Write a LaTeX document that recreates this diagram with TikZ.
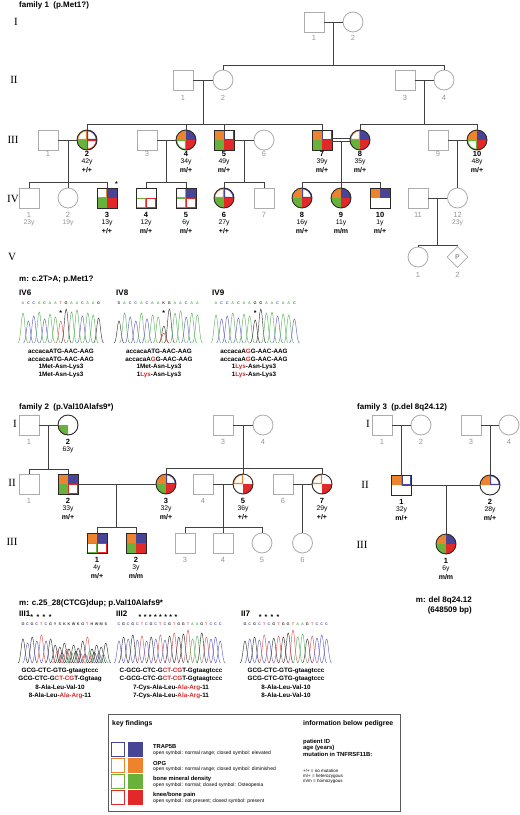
\documentclass[tikz,border=0pt]{standalone}
\usepackage{fontspec}
\setmainfont{Liberation Sans}
\newfontfamily\romfont{Liberation Serif}
\usetikzlibrary{shapes.geometric}
\definecolor{orng}{RGB}{238,131,45}
\definecolor{blu}{RGB}{72,68,150}
\definecolor{grn}{RGB}{104,178,60}
\definecolor{rd}{RGB}{226,40,40}
\definecolor{gsym}{RGB}{172,172,172}
\definecolor{gtxt}{RGB}{150,150,150}
\definecolor{dkline}{RGB}{65,65,65}
\definecolor{bord}{RGB}{45,40,40}
\definecolor{chA}{RGB}{95,180,95}
\definecolor{chC}{RGB}{100,100,190}
\definecolor{chG}{RGB}{55,55,55}
\definecolor{chT}{RGB}{225,85,85}
\colorlet{chS}{chG}\colorlet{chK}{chG}\colorlet{chY}{chG}\colorlet{chW}{chG}
\colorlet{chR}{chG}\colorlet{chM}{chG}\colorlet{chH}{chG}
\definecolor{mred}{RGB}{215,40,40}
\definecolor{legline}{RGB}{90,90,90}

\newcommand\qF[2]{\fill[#2] #1;}
\newcommand\qO[2]{\begin{scope}\clip #1;\draw[#2,line width=2.2pt] #1;\end{scope}}
\newcommand\qN[2]{}
\newcommand\asq[7]{%
  \fill[white] (#2-10,#3-10) rectangle (#2+10,#3+10);
  #4{(#2-10,#3-10) rectangle (#2,#3)}{orng}
  #5{(#2,#3-10) rectangle (#2+10,#3)}{blu}
  #6{(#2-10,#3) rectangle (#2,#3+10)}{grn}
  #7{(#2,#3) rectangle (#2+10,#3+10)}{rd}
  \node[affsq] (#1) at (#2,#3) {};}
\newcommand\aci[7]{%
  \fill[white] (#2,#3) circle[radius=10pt];
  #4{(#2,#3) -- (#2-10,#3) arc[start angle=180,end angle=90,radius=10pt] -- cycle}{orng}
  #5{(#2,#3) -- (#2,#3-10) arc[start angle=90,end angle=0,radius=10pt] -- cycle}{blu}
  #6{(#2,#3) -- (#2,#3+10) arc[start angle=270,end angle=180,radius=10pt] -- cycle}{grn}
  #7{(#2,#3) -- (#2+10,#3) arc[start angle=0,end angle=-90,radius=10pt] -- cycle}{rd}
  \node[affci] (#1) at (#2,#3) {};}
\newcommand\gsq[3]{\node[gsqs] (#1) at (#2,#3) {};}
\newcommand\gci[3]{\node[gcis] (#1) at (#2,#3) {};}
\def\lboff{16pt}
\newcommand\plab[4]{%
  \node[numlbl] (#1-n) at ([yshift=-\lboff]#1.center) {#2};
  \node[agelbl] (#1-a) at ([yshift=-\lboff-7.8pt]#1.center) {#3};
  \node[genlbl] (#1-g) at ([yshift=-\lboff-15.6pt]#1.center) {#4};}
\newcommand\glab[3]{%
  \node[gnum] (#1-n) at ([yshift=-\lboff]#1.center) {#2};
  \node[gage] (#1-a) at ([yshift=-\lboff-7.8pt]#1.center) {#3};}
\newcommand\pk[4]{\draw[color=#4,line width=0.45pt] (#1-5,#2) .. controls (#1-2.3,#2) and (#1-1.7,#2-#3) .. (#1,#2-#3) .. controls (#1+1.7,#2-#3) and (#1+2.3,#2) .. (#1+5,#2);}
\newcommand\chrom[6]{%
  \foreach \l/\h [count=\i from 0] in {#6}{%
    \pgfmathsetmacro\px{#2+\i*#3}%
    \pk{\px}{#5}{\h}{ch\l}%
    \node[baselet,text=ch\l] (#1-\i) at (\px,#4) {\l};}}

\begin{document}
\begin{tikzpicture}[x=1pt,y=-1pt,
  pline/.style={draw=dkline,line width=0.75pt},
  affsq/.style={draw=bord,line width=0.9pt,rectangle,minimum size=20pt,inner sep=0pt},
  affci/.style={draw=bord,line width=0.9pt,circle,minimum size=20pt,inner sep=0pt},
  gsqs/.style={draw=gsym,fill=white,line width=0.8pt,rectangle,minimum size=20pt,inner sep=0pt},
  gcis/.style={draw=gsym,fill=white,line width=0.8pt,circle,minimum size=20pt,inner sep=0pt},
  gdia/.style={draw=gsym,fill=white,line width=0.8pt,diamond,minimum width=21pt,minimum height=21pt,inner sep=0pt,font=\fontsize{7}{7}\selectfont\bfseries,text=gtxt},
  numlbl/.style={font=\fontsize{7.5}{8}\selectfont\bfseries,inner sep=0pt},
  agelbl/.style={font=\fontsize{6.8}{7}\selectfont,inner sep=0pt},
  genlbl/.style={font=\fontsize{7}{7}\selectfont\bfseries,inner sep=0pt},
  gnum/.style={font=\fontsize{7.5}{8}\selectfont,text=gtxt,inner sep=0pt},
  gage/.style={font=\fontsize{6.8}{7}\selectfont,text=gtxt,inner sep=0pt},
  roman/.style={font=\romfont\fontsize{11}{11}\selectfont,inner sep=0pt},
  head/.style={font=\fontsize{8}{9}\selectfont\bfseries,anchor=west,inner sep=0pt},
  seqtxt/.style={font=\fontsize{6.3}{7}\selectfont\bfseries,inner sep=0pt},
  baselet/.style={font=\fontsize{3.8}{4}\selectfont\bfseries,inner sep=0pt},
  astx/.style={font=\fontsize{7}{7}\selectfont\bfseries,inner sep=0pt},
  lgh/.style={font=\fontsize{6.9}{7}\selectfont\bfseries,inner sep=0pt,anchor=west},
  lgt/.style={font=\fontsize{5.8}{6}\selectfont\bfseries,inner sep=0pt,anchor=west},
  lgs/.style={font=\fontsize{5}{5}\selectfont,inner sep=0pt,anchor=west},
  lgi/.style={font=\fontsize{5.9}{6}\selectfont\bfseries,inner sep=0pt,anchor=west},
  lgx/.style={font=\fontsize{4.5}{5}\selectfont,inner sep=0pt,anchor=west}]
\useasboundingbox (0,0) rectangle (520,815);
\fill[white] (0,0) rectangle (520,815);

% ================= FAMILY 1 =================
\node[head] (h1) at (19,5) {family 1\ \ (p.Met1?)};
\node[roman] (r11) at (16,22) {I};
\node[roman] (r12) at (14,80) {II};
\node[roman] (r13) at (13,140) {III};
\node[roman] (r14) at (13,199) {IV};
\node[roman] (r15) at (12,257) {V};

\def\lboff{16pt}
\gsq{f1I1}{314}{22} \gci{f1I2}{353}{22}
\glab{f1I1}{1}{} \glab{f1I2}{2}{}

\def\lboff{18pt}
\gsq{f1II1}{183}{80} \gci{f1II2}{223}{80} \gsq{f1II3}{405}{80} \gci{f1II4}{444}{80}
\glab{f1II1}{1}{} \glab{f1II2}{2}{} \glab{f1II3}{3}{} \glab{f1II4}{4}{}

\def\lboff{14pt}
\gsq{f1III1}{48}{140}
\aci{f1III2}{87}{140}{\qO}{\qO}{\qF}{\qO}
\gsq{f1III3}{147}{140}
\aci{f1III4}{186}{140}{\qF}{\qF}{\qO}{\qF}
\asq{f1III5}{224}{140}{\qF}{\qO}{\qF}{\qF}
\gci{f1III6}{264}{140}
\asq{f1III7}{322}{140}{\qF}{\qO}{\qF}{\qF}
\aci{f1III8}{360}{140}{\qO}{\qF}{\qF}{\qF}
\gsq{f1III9}{438}{140}
\aci{f1III10}{477}{140}{\qF}{\qF}{\qO}{\qF}
\glab{f1III1}{1}{} \plab{f1III2}{2}{42y}{+/+} \glab{f1III3}{3}{}
\plab{f1III4}{4}{34y}{m/+} \plab{f1III5}{5}{49y}{m/+} \glab{f1III6}{6}{}
\plab{f1III7}{7}{39y}{m/+} \plab{f1III8}{8}{35y}{m/+} \glab{f1III9}{9}{}
\plab{f1III10}{10}{48y}{m/+}

\def\lboff{17pt}
\gsq{f1IV1}{29}{198} \gci{f1IV2}{68}{198}
\asq{f1IV3}{107}{198}{\qO}{\qF}{\qF}{\qF}
\asq{f1IV4}{146}{198}{\qN}{\qN}{\qO}{\qO}
\asq{f1IV5}{186}{198}{\qO}{\qF}{\qO}{\qO}
\aci{f1IV6}{224}{198}{\qO}{\qO}{\qF}{\qF}
\gsq{f1IV7}{264}{198}
\aci{f1IV8}{302}{198}{\qF}{\qO}{\qF}{\qF}
\aci{f1IV9}{341}{198}{\qF}{\qF}{\qF}{\qF}
\asq{f1IV10}{380}{198}{\qF}{\qF}{\qN}{\qN}
\gsq{f1IV11}{418}{198} \gci{f1IV12}{457.5}{198}
\glab{f1IV1}{1}{23y} \glab{f1IV2}{2}{19y}
\plab{f1IV3}{3}{13y}{+/+} \plab{f1IV4}{4}{12y}{m/+} \plab{f1IV5}{5}{6y}{m/+}
\plab{f1IV6}{6}{27y}{+/+} \glab{f1IV7}{7}{}
\plab{f1IV8}{8}{16y}{m/+} \plab{f1IV9}{9}{11y}{m/m} \plab{f1IV10}{10}{1y}{m/+}
\glab{f1IV11}{11}{} \glab{f1IV12}{12}{23y}
\node[astx] (f1IV3s) at (116.5,184) {*};

\def\lboff{18pt}
\gci{f1V1}{418}{257}
\node[gdia] (f1V2) at (457.5,257) {P};
\glab{f1V1}{1}{} \glab{f1V2}{2}{}

% lines family 1
\draw[pline] (f1I1) -- (f1I2);
\coordinate (f1m1) at (333.5,22); \coordinate (f1s1) at (333.5,65);
\draw[pline] (f1m1) -- (f1s1);
\draw[pline] (f1II2) |- (f1s1); \draw[pline] (f1II4) |- (f1s1);

\draw[pline] (f1II1) -- (f1II2); \draw[pline] (f1II3) -- (f1II4);
\coordinate (f1m2) at (203,80); \coordinate (f1s2) at (203,124);
\draw[pline] (f1m2) -- (f1s2);
\draw[pline] (f1III2) |- (f1s2); \draw[pline] (f1III4) |- (f1s2);
\draw[pline] (f1III5) |- (f1s2); \draw[pline] (f1III7) |- (f1s2);
\coordinate (f1m3) at (424.5,80); \coordinate (f1s3) at (424.5,124);
\draw[pline] (f1m3) -- (f1s3);
\draw[pline] (f1III8) |- (f1s3); \draw[pline] (f1III10) |- (f1s3);

\draw[pline] (f1III1) -- (f1III2);
\coordinate (f1m4) at (68,140); \coordinate (f1s4) at (68,182);
\draw[pline] (f1m4) -- (f1s4);
\draw[pline] (f1IV1) |- (f1s4); \draw[pline] (f1IV2) |- (f1s4); \draw[pline] (f1IV3) |- (f1s4);

\draw[pline] (f1III3) -- (f1III4);
\coordinate (f1m5) at (166.5,140); \coordinate (f1s5) at (166.5,182);
\draw[pline] (f1m5) -- (f1s5);
\draw[pline] (f1IV4) |- (f1s5); \draw[pline] (f1IV5) |- (f1s5);

\draw[pline] (f1III5) -- (f1III6);
\coordinate (f1m6) at (244,140); \coordinate (f1s6) at (244,182);
\draw[pline] (f1m6) -- (f1s6);
\draw[pline] (f1IV6) |- (f1s6); \draw[pline] (f1IV7) |- (f1s6);

\draw[pline] ([yshift=1.6pt]f1III7.east) -- ([yshift=1.6pt]f1III8.west);
\draw[pline] ([yshift=-1.6pt]f1III7.east) -- ([yshift=-1.6pt]f1III8.west);
\coordinate (f1m7) at (341,141.6); \coordinate (f1s7) at (341,182);
\draw[pline] (f1m7) -- (f1s7);
\draw[pline] (f1IV8) |- (f1s7); \draw[pline] (f1IV9) |- (f1s7); \draw[pline] (f1IV10) |- (f1s7);

\draw[pline] (f1III9) -- (f1III10);
\coordinate (f1m8) at (457.5,140);
\draw[pline] (f1m8) -- (f1IV12);

\draw[pline] (f1IV11) -- (f1IV12);
\coordinate (f1m9) at (437.75,198); \coordinate (f1s9) at (437.75,245);
\draw[pline] (f1m9) -- (f1s9);
\draw[pline] (f1V1) |- (f1s9); \draw[pline] (f1V2) |- (f1s9);

% ================= Chromatograms family 1 =================
\node[head] (h2) at (19,280) {m: c.2T>A; p.Met1?};
\node[head] (p1) at (19,293) {IV6};
\node[head] (p2) at (116,293) {IV8};
\node[head] (p3) at (212,293) {IV9};
\chrom{c1}{23}{5.4}{303.5}{343}{A/30,C/22,C/27,A/31,C/24,A/29,A/26,T/22,G/34,A/31,A/33,C/27,A/30,A/28,G/25}
\chrom{c2}{119}{5.6}{303.5}{343}{S/22,A/30,C/26,C/22,A/30,C/24,A/28,A/26,K/17,G/34,A/30,A/32,C/26,A/30,A/28}
\pk{163.8}{343}{10}{chT}
\chrom{c3}{216}{5.6}{303.5}{343}{A/28,C/24,C/27,A/30,C/25,A/29,A/27,G/23,G/34,A/30,A/31,C/27,A/29,A/28,C/24}
\node[astx] (c1s) at (60.8,313) {*};
\node[astx] (c2s) at (163.8,313) {*};
\node[astx] (c3s) at (255.2,313) {*};

\node[seqtxt] (q1a) at (61,351) {accacaATG-AAC-AAG};
\node[seqtxt] (q1b) at (61,359) {accacaATG-AAC-AAG};
\node[seqtxt] (q1c) at (61,367) {1Met-Asn-Lys3};
\node[seqtxt] (q1d) at (61,375) {1Met-Asn-Lys3};
\node[seqtxt] (q2a) at (159,351) {accacaATG-AAC-AAG};
\node[seqtxt] (q2b) at (159,359) {accacaA\textcolor{mred}{G}G-AAC-AAG};
\node[seqtxt] (q2c) at (159,367) {1Met-Asn-Lys3};
\node[seqtxt] (q2d) at (159,375) {1\textcolor{mred}{Lys}-Asn-Lys3};
\node[seqtxt] (q3a) at (254,351) {accacaA\textcolor{mred}{G}G-AAC-AAG};
\node[seqtxt] (q3b) at (254,359) {accacaA\textcolor{mred}{G}G-AAC-AAG};
\node[seqtxt] (q3c) at (254,367) {1\textcolor{mred}{Lys}-Asn-Lys3};
\node[seqtxt] (q3d) at (254,375) {1\textcolor{mred}{Lys}-Asn-Lys3};

% ================= FAMILY 2 =================
\node[head] (h4) at (19,407) {family 2\ \ (p.Val10Alafs9*)};
\node[roman] (r21) at (15,424) {I};
\node[roman] (r22) at (12,483) {II};
\node[roman] (r23) at (12,542) {III};

\def\lboff{17pt}
\gsq{f2I1}{29}{425}
\aci{f2I2}{68}{425}{\qN}{\qN}{\qF}{\qN}
\gsq{f2I3}{223}{425} \gci{f2I4}{263}{425}
\glab{f2I1}{1}{} \plab{f2I2}{2}{63y}{} \glab{f2I3}{3}{} \glab{f2I4}{4}{}

\gsq{f2II1}{29}{484}
\asq{f2II2}{68}{484}{\qF}{\qF}{\qF}{\qO}
\aci{f2II3}{166}{484}{\qF}{\qO}{\qF}{\qF}
\gsq{f2II4}{203}{484}
\aci{f2II5}{243}{484}{\qO}{\qN}{\qN}{\qF}
\gsq{f2II6}{283}{484}
\aci{f2II7}{322}{484}{\qO}{\qN}{\qN}{\qF}
\glab{f2II1}{1}{} \plab{f2II2}{2}{33y}{m/+} \plab{f2II3}{3}{32y}{m/+}
\glab{f2II4}{4}{} \plab{f2II5}{5}{36y}{+/+} \glab{f2II6}{6}{} \plab{f2II7}{7}{29y}{+/+}

\asq{f2III1}{97}{543}{\qF}{\qF}{\qO}{\qO}
\asq{f2III2}{136}{543}{\qF}{\qF}{\qF}{\qF}
\gsq{f2III3}{185}{543} \gsq{f2III4}{223}{543} \gci{f2III5}{262}{543} \gci{f2III6}{302.5}{543}
\plab{f2III1}{1}{4y}{m/+} \plab{f2III2}{2}{3y}{m/m}
\glab{f2III3}{3}{} \glab{f2III4}{4}{} \glab{f2III5}{5}{} \glab{f2III6}{6}{}

\draw[pline] (f2I1) -- (f2I2);
\coordinate (f2m1) at (48.5,425); \coordinate (f2s1) at (48.5,469);
\draw[pline] (f2m1) -- (f2s1);
\draw[pline] (f2II1) |- (f2s1); \draw[pline] (f2II2) |- (f2s1);
\draw[pline] (f2I3) -- (f2I4);
\coordinate (f2m2) at (243,425); \coordinate (f2s2) at (243,468);
\draw[pline] (f2m2) -- (f2s2);
\draw[pline] (f2II3) |- (f2s2); \draw[pline] (f2II5) |- (f2s2); \draw[pline] (f2II7) |- (f2s2);
\draw[pline] (f2II2) -- (f2II3);
\coordinate (f2m3) at (116,484); \coordinate (f2s3) at (116,527);
\draw[pline] (f2m3) -- (f2s3);
\draw[pline] (f2III1) |- (f2s3); \draw[pline] (f2III2) |- (f2s3);
\draw[pline] (f2II4) -- (f2II5);
\coordinate (f2m4) at (223,484); \coordinate (f2s4) at (223,527);
\draw[pline] (f2m4) -- (f2s4);
\draw[pline] (f2III3) |- (f2s4); \draw[pline] (f2III4) |- (f2s4); \draw[pline] (f2III5) |- (f2s4);
\draw[pline] (f2II6) -- (f2II7);
\coordinate (f2m5) at (302.5,484);
\draw[pline] (f2m5) -- (f2III6);

% ================= FAMILY 3 =================
\node[head] (h5) at (357,407) {family 3\ \ (p.del 8q24.12)};
\node[roman] (r31) at (368,424) {I};
\node[roman] (r32) at (365,485) {II};
\node[roman] (r33) at (362,545) {III};
\gsq{f3I1}{382}{425} \gci{f3I2}{421}{425} \gsq{f3I3}{471}{425} \gci{f3I4}{509}{425}
\glab{f3I1}{1}{} \glab{f3I2}{2}{} \glab{f3I3}{3}{} \glab{f3I4}{4}{}
\asq{f3II1}{401.5}{485}{\qF}{\qO}{\qN}{\qN}
\aci{f3II2}{490}{485}{\qF}{\qO}{\qN}{\qN}
\plab{f3II1}{1}{32y}{m/+} \plab{f3II2}{2}{28y}{m/+}
\aci{f3III1}{446}{544}{\qF}{\qF}{\qF}{\qF}
\plab{f3III1}{1}{6y}{m/m}
\draw[pline] (f3I1) -- (f3I2);
\coordinate (f3m1) at (401.5,425);
\draw[pline] (f3m1) -- (f3II1);
\draw[pline] (f3I3) -- (f3I4);
\coordinate (f3m2) at (490,425);
\draw[pline] (f3m2) -- (f3II2);
\draw[pline] (f3II1) -- (f3II2);
\coordinate (f3m3) at (446,485);
\draw[pline] (f3m3) -- (f3III1);
\node[head,anchor=east] (f3t1) at (472,600) {m: del 8q24.12};
\node[head,anchor=east] (f3t2) at (472,610) {(648509 bp)};

% ================= Chromatograms family 2 =================
\node[head] (h6) at (19,603) {m: c.25\_28(CTCG)dup; p.Val10Alafs9*};
\node[head] (p4) at (19,614) {III1};
\node[head] (p5) at (116,614) {III2};
\node[head] (p6) at (241,614) {II7};
\chrom{c4}{23}{4.6}{624}{663}{G/24,C/20,G/26,C/22,T/28,C/22,G/24,Y/18,S/16,K/20,K/14,W/18,K/15,G/22,T/26,H/14,W/18,M/16,S/20}
\foreach \j/\l/\h in {7.5/T/12,8.5/G/10,9.5/T/14,10.5/A/11,11.5/G/12,12.5/T/10,13.5/C/9,14.5/A/12,15.5/G/11,16.5/C/10,17.5/A/9}{\pk{23+\j*4.6}{663}{\h}{ch\l}}
\chrom{c5}{119}{4.6}{624}{663}{C/22,G/26,C/24,G/28,C/23,T/27,C/22,G/26,C/24,T/28,C/23,G/27,T/30,G/26,G/29,T/33,A/24,A/27,G/30,T/26,C/24,C/26,C/22}
\chrom{c6}{245}{4.8}{624}{663}{G/22,C/24,G/26,C/23,T/28,C/22,G/25,T/27,G/26,G/30,T/33,A/26,A/29,G/24,T/27,C/25,C/28,C/24}
\node[astx] (c4s) at (41,617) {*\hspace{3.5pt}*\hspace{3.5pt}*\hspace{3.5pt}*};
\node[astx] (c5s) at (158,617) {*\hspace{2.4pt}*\hspace{2.4pt}*\hspace{2.4pt}*\hspace{2.4pt}*\hspace{2.4pt}*\hspace{2.4pt}*\hspace{2.4pt}*};
\node[astx] (c6s) at (269,617) {*\hspace{3.2pt}*\hspace{3.2pt}*\hspace{3.2pt}*};

\node[seqtxt] (q4a) at (60,671) {GCG-CTC-GTG-gtaagtccc};
\node[seqtxt] (q4b) at (60,679) {GCG-CTC-G\textcolor{mred}{CT-CG}T-Ggtaag};
\node[seqtxt] (q4c) at (60,687.5) {8-Ala-Leu-Val-10};
\node[seqtxt] (q4d) at (60,695.5) {8-Ala-Leu-\textcolor{mred}{Ala-Arg}-11};
\node[seqtxt] (q5a) at (171,671) {C-GCG-CTC-G\textcolor{mred}{CT-CG}T-Ggtaagtccc};
\node[seqtxt] (q5b) at (171,679) {C-GCG-CTC-G\textcolor{mred}{CT-CG}T-Ggtaagtccc};
\node[seqtxt] (q5c) at (171,687.5) {7-Cys-Ala-Leu-\textcolor{mred}{Ala-Arg}-11};
\node[seqtxt] (q5d) at (171,695.5) {7-Cys-Ala-Leu-\textcolor{mred}{Ala-Arg}-11};
\node[seqtxt] (q6a) at (286,671) {GCG-CTC-GTG-gtaagtccc};
\node[seqtxt] (q6b) at (286,679) {GCG-CTC-GTG-gtaagtccc};
\node[seqtxt] (q6c) at (286,687.5) {8-Ala-Leu-Val-10};
\node[seqtxt] (q6d) at (286,695.5) {8-Ala-Leu-Val-10};

% ================= Legend =================
\draw[legline,line width=0.8pt] (108,714) rectangle (400,811);
\node[lgh] (k1) at (112,724) {key findings};
\node[lgh] (k2) at (303,724) {information below pedigree};
\foreach \c/\yy in {blu/742,orng/758,grn/774,rd/790}{
  \draw[\c,line width=1pt,fill=white] (111.5,\yy+0.5) rectangle (124.5,\yy+14);
  \fill[\c] (128,\yy) rectangle (143,\yy+14.5);}
\node[lgt] (k3) at (153,747) {TRAP5B};
\node[lgs] (k4) at (153,753) {open symbol: normal range; closed symbol: elevated};
\node[lgt] (k5) at (153,763) {OPG};
\node[lgs] (k6) at (153,769) {open symbol: normal range; closed symbol: diminished};
\node[lgt] (k7) at (153,779) {bone mineral density};
\node[lgs] (k8) at (153,785) {open symbol: normal; closed symbol: Osteopenia};
\node[lgt] (k9) at (153,795) {knee/bone pain};
\node[lgs] (k10) at (153,801) {open symbol: not present; closed symbol: present};
\node[lgi] (k11) at (303,742) {patient ID};
\node[lgi] (k12) at (303,748) {age (years)};
\node[lgi] (k13) at (303,754) {mutation in TNFRSF11B:};
\node[lgx] (k14) at (303,771) {+/+ = no mutation};
\node[lgx] (k15) at (303,776) {m/+ = heterozygous};
\node[lgx] (k16) at (303,781) {m/m = homozygous};
\end{tikzpicture}
\end{document}
